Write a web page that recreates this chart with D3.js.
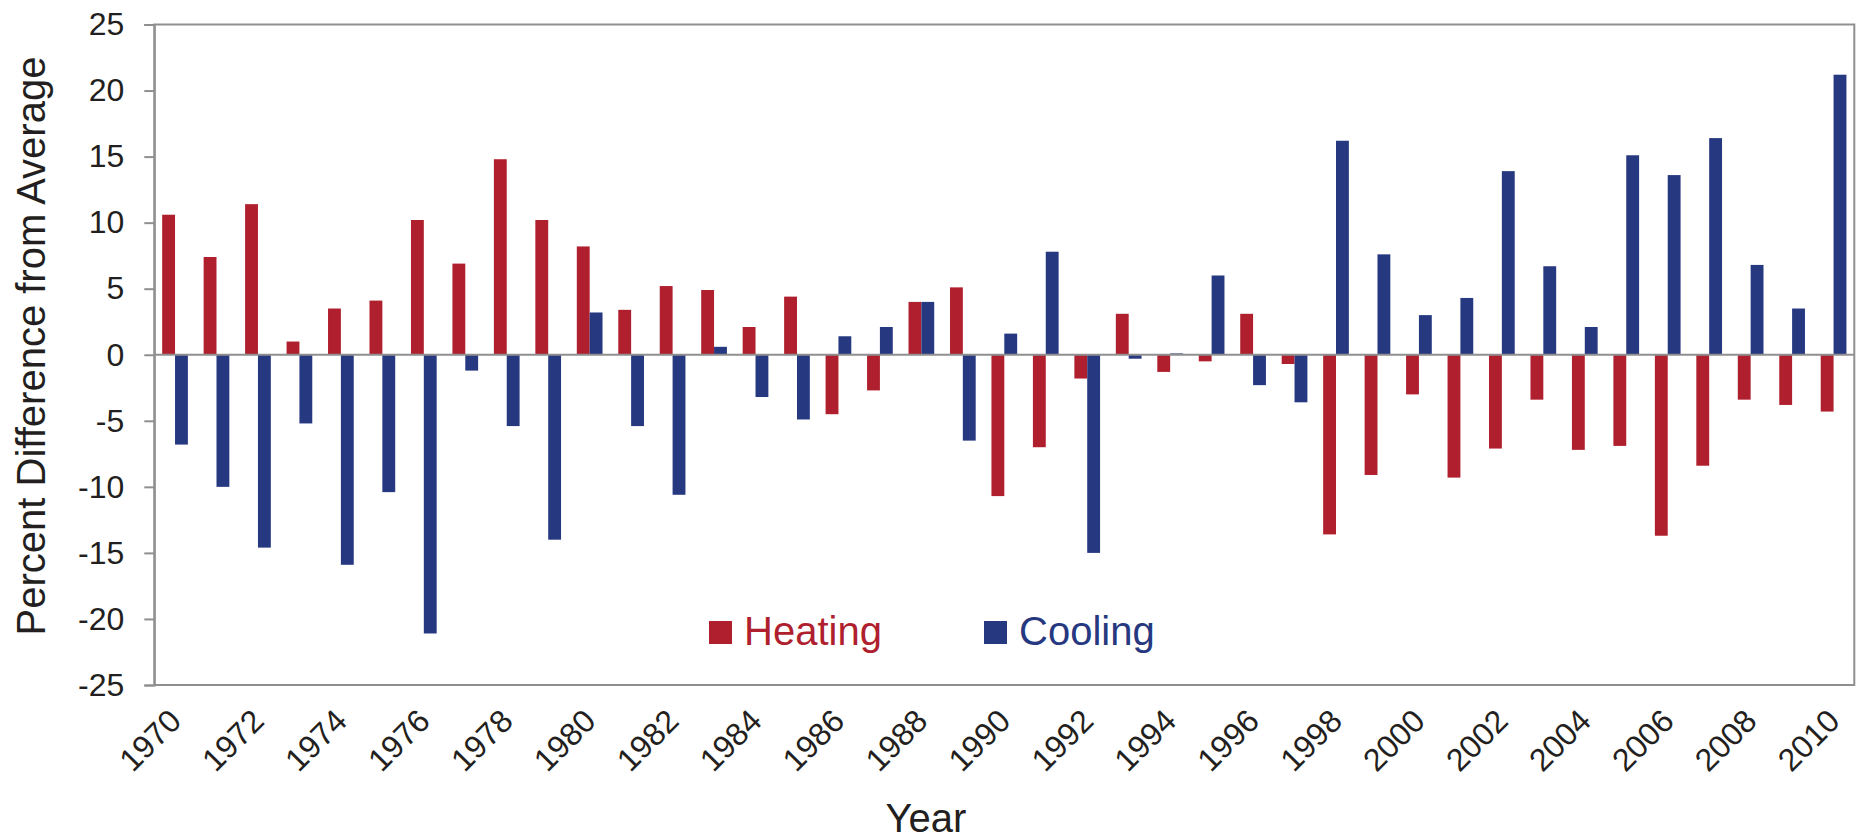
<!DOCTYPE html>
<html>
<head>
<meta charset="utf-8">
<script src="https://cdn.jsdelivr.net/npm/d3@7"></script>
<style>
  html, body { margin: 0; padding: 0; background: #ffffff; }
  svg { display: block; }
  text { font-family: "Liberation Sans", Arial, Helvetica, sans-serif; fill: #231f20; }
</style>
</head>
<body>
<svg id="chart" width="1871" height="840"></svg>
<script>
// ---- data ----
const years = [1970,1971,1972,1973,1974,1975,1976,1977,1978,1979,
               1980,1981,1982,1983,1984,1985,1986,1987,1988,1989,
               1990,1991,1992,1993,1994,1995,1996,1997,1998,1999,
               2000,2001,2002,2003,2004,2005,2006,2007,2008,2009,2010];
const heating = [10.6, 7.4, 11.4, 1.0, 3.5, 4.1, 10.2, 6.9, 14.8, 10.2,
                 8.2, 3.4, 5.2, 4.9, 2.1, 4.4, -4.5, -2.7, 4.0, 5.1,
                 -10.7, -7.0, -1.8, 3.1, -1.3, -0.5, 3.1, -0.7, -13.6, -9.1,
                 -3.0, -9.3, -7.1, -3.4, -7.2, -6.9, -13.7, -8.4, -3.4, -3.8, -4.3];
const cooling = [-6.8, -10.0, -14.6, -5.2, -15.9, -10.4, -21.1, -1.2, -5.4, -14.0,
                 3.2, -5.4, -10.6, 0.6, -3.2, -4.9, 1.4, 2.1, 4.0, -6.5,
                 1.6, 7.8, -15.0, -0.3, 0.1, 6.0, -2.3, -3.6, 16.2, 7.6,
                 3.0, 4.3, 13.9, 6.7, 2.1, 15.1, 13.6, 16.4, 6.8, 3.5, 21.2];
const seriesNames = ["Heating", "Cooling"];
const xTickLabels = ["1970","1972","1974","1976","1978","1980","1982","1984","1986","1988",
                     "1990","1992","1994","1996","1998","2000","2002","2004","2006","2008","2010"];
const yTicks = [-25, -20, -15, -10, -5, 0, 5, 10, 15, 20, 25];
const yTitle = "Percent Difference from Average";
const xTitle = "Year";

// ---- layout ----
const colors = { Heating: "#b01f2e", Cooling: "#263880" };
const axisColor = "#8f8f8f";
const plot = { left: 154.3, right: 1854.3, top: 24.5, bottom: 685 };

const svg = d3.select("#chart");

const x0 = d3.scaleBand().domain(years.map(String)).range([plot.left, plot.right]).padding(0);
const x1 = d3.scaleBand().domain(seriesNames).range([0, x0.bandwidth()]).paddingInner(0).paddingOuter(0.613);
const y = d3.scaleLinear().domain([-25, 25]).range([plot.bottom, plot.top]);

const rows = years.map((yr, i) => ({ year: String(yr), Heating: heating[i], Cooling: cooling[i] }));

// bars
const groups = svg.append("g").selectAll("g")
  .data(rows).join("g")
  .attr("transform", d => `translate(${x0(d.year)},0)`);

groups.selectAll("rect")
  .data(d => seriesNames.map(k => ({ key: k, value: d[k] })))
  .join("rect")
  .attr("x", d => x1(d.key))
  .attr("width", x1.bandwidth())
  .attr("y", d => y(Math.max(0, d.value)))
  .attr("height", d => Math.abs(y(d.value) - y(0)))
  .attr("fill", d => colors[d.key]);

// zero line
svg.append("line")
  .attr("x1", plot.left).attr("x2", plot.right)
  .attr("y1", y(0)).attr("y2", y(0))
  .attr("stroke", axisColor).attr("stroke-width", 2);

// plot border
svg.append("rect")
  .attr("x", plot.left).attr("y", plot.top)
  .attr("width", plot.right - plot.left).attr("height", plot.bottom - plot.top)
  .attr("fill", "none").attr("stroke", axisColor).attr("stroke-width", 2);

// y axis
const yAxis = d3.axisLeft(y).tickValues(yTicks).tickSize(10).tickPadding(20).tickFormat(d => String(d));
const yg = svg.append("g").attr("transform", `translate(${plot.left},0)`).call(yAxis);
yg.select(".domain").attr("stroke", axisColor).attr("stroke-width", 2);
yg.selectAll(".tick line").attr("stroke", axisColor).attr("stroke-width", 2);
yg.selectAll(".tick text")
  .attr("font-size", 32)
  .attr("fill", "#231f20")
  .style("font-family", '"Liberation Sans", Arial, sans-serif');

// x tick labels (every other year), rotated -45
svg.append("g").selectAll("text")
  .data(xTickLabels).join("text")
  .attr("transform", d => `translate(${x0(d) + x0.bandwidth() / 2 + 8},${plot.bottom + 38}) rotate(-45)`)
  .attr("text-anchor", "end")
  .attr("font-size", 32)
  .text(d => d);

// axis titles
svg.append("text")
  .attr("transform", `translate(45,346) rotate(-90)`)
  .attr("text-anchor", "middle")
  .attr("font-size", 40)
  .text(yTitle);

svg.append("text")
  .attr("x", 926).attr("y", 832)
  .attr("text-anchor", "middle")
  .attr("font-size", 40)
  .text(xTitle);

// legend
const legendPos = [{ key: "Heating", x: 709 }, { key: "Cooling", x: 984 }];
const lg = svg.append("g").selectAll("g").data(legendPos).join("g")
  .attr("transform", d => `translate(${d.x},621)`);
lg.append("rect").attr("width", 23).attr("height", 23).attr("fill", d => colors[d.key]);
lg.append("text")
  .attr("x", 35).attr("y", 24)
  .attr("font-size", 40)
  .style("fill", d => colors[d.key])
  .text(d => d.key);
</script>
</body>
</html>
